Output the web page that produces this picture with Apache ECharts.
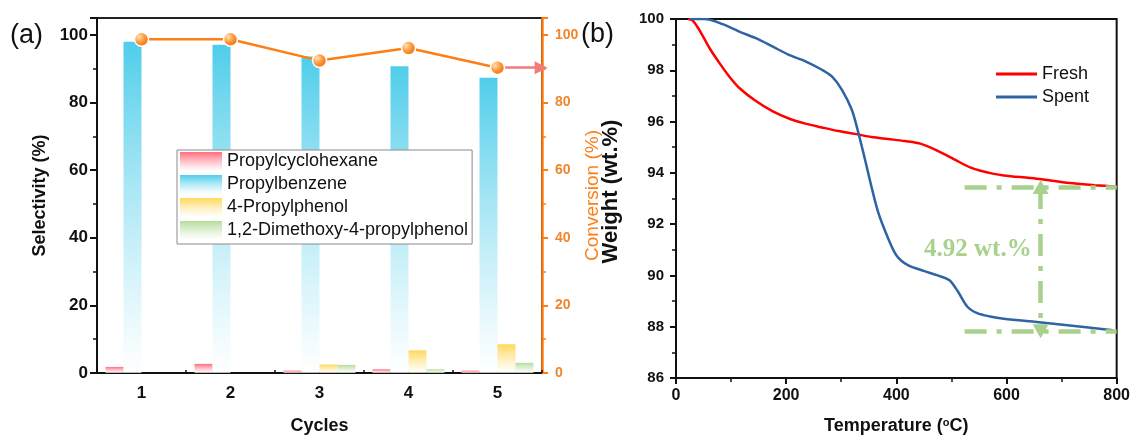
<!DOCTYPE html>
<html>
<head>
<meta charset="utf-8">
<script src="https://cdn.jsdelivr.net/npm/echarts@6/dist/echarts.min.js"></script>
<style>
html, body { margin: 0; padding: 0; background: #fff; }
#main { width: 1133px; height: 440px; }
</style>
</head>
<body>
<div id="main"></div>
<script>
// (a) selectivity / conversion over reuse cycles
var cycles = ['1', '2', '3', '4', '5'];
var propylcyclohexane = [1.8, 2.7, 0.7, 1.1, 0.7];
var propylbenzene = [98.0, 97.1, 93.6, 90.7, 87.3];
var propylphenol = [0, 0, 2.5, 6.7, 8.5];
var dimethoxyPropylphenol = [0, 0, 2.4, 1.1, 3.0];
var conversion = [98.7, 98.7, 92.4, 96.1, 90.3];

// (b) TGA curves, [temperature, weight]
var fresh = [[22, 100], [30, 99.95], [43, 99.55], [61, 98.86], [79, 98.28], [97, 97.75], [115, 97.31],
  [145, 96.8], [175, 96.41], [205, 96.12], [235, 95.92], [265, 95.77], [295, 95.63], [325, 95.52],
  [355, 95.4], [385, 95.32], [415, 95.24], [445, 95.13], [475, 94.86], [505, 94.53], [535, 94.2],
  [553, 94.08], [575, 93.97], [595, 93.9], [655, 93.77], [715, 93.6], [760, 93.52], [800, 93.46]];
var spent = [[25, 100], [52, 100], [85, 99.8], [115, 99.51], [145, 99.25], [175, 98.93], [205, 98.6],
  [235, 98.35], [265, 98.02], [283, 97.76], [301, 97.25], [319, 96.47], [331, 95.57], [343, 94.53],
  [355, 93.45], [367, 92.47], [383, 91.56], [400, 90.79], [421, 90.4], [451, 90.17], [475, 90.0],
  [496, 89.82], [511, 89.4], [529, 88.78], [547, 88.53], [570, 88.4], [595, 88.31], [655, 88.18],
  [715, 88.05], [793, 87.86]];

// weight-loss annotation
var lossText = '4.92 wt.%';
var lossUpper = 93.45, lossLower = 87.82;
var lossFrom = 524, lossTo = 800, lossArrowAt = 662;
var lossTextAt = [548, 91.0];

var font = 'Liberation Sans, Arial, sans-serif';
var orange = '#fd7e14';

var fade = function(c) {
  return new echarts.graphic.LinearGradient(0, 0, 0, 1, [
    {offset: 0, color: c}, {offset: 1, color: 'rgba(255,255,255,0.7)'}
  ]);
};
var ball = new echarts.graphic.RadialGradient(0.35, 0.35, 0.75, [
  {offset: 0, color: '#ffe2bd'}, {offset: 0.45, color: '#ff9a3a'}, {offset: 1, color: '#e36800'}
]);

var barSeries = function(name, data, color) {
  return {
    name: name, type: 'bar', xAxisIndex: 0, yAxisIndex: 0, data: data,
    barWidth: 18, barGap: '0%',
    itemStyle: {color: fade(color)}
  };
};

var chart = echarts.init(document.getElementById('main'));
chart.setOption({
  animation: false,
  textStyle: {fontFamily: font},
  graphic: [
    {type: 'text', left: 10, top: 22, style: {text: '(a)', fontSize: 27, fontFamily: font, fill: '#111'}},
    {type: 'text', left: 581, top: 21, style: {text: '(b)', fontSize: 27, fontFamily: font, fill: '#111'}}
  ],
  legend: [{
    data: ['Propylcyclohexane', 'Propylbenzene', '4-Propylphenol', '1,2-Dimethoxy-4-propylphenol'],
    orient: 'vertical', left: 177, top: 150, icon: 'rect',
    itemWidth: 42, itemHeight: 19, itemGap: 4, padding: [2, 4, 4, 3],
    borderColor: '#8a8a8a', borderWidth: 1, backgroundColor: '#fff',
    selectedMode: false,
    textStyle: {fontFamily: font, fontSize: 18, color: '#111'}
  }, {
    data: ['Fresh', 'Spent'],
    orient: 'vertical', left: 991, top: 59, icon: 'rect',
    itemWidth: 41, itemHeight: 3, itemGap: 3,
    selectedMode: false,
    textStyle: {fontFamily: font, fontSize: 18, color: '#111', lineHeight: 20}
  }],
  grid: [
    {left: 97, right: 591, top: 18, bottom: 63, show: true, borderColor: '#222', borderWidth: 2},
    {left: 676, right: 13, top: 19, bottom: 60, show: true, borderColor: '#111', borderWidth: 2}
  ],
  xAxis: [{
    type: 'category', gridIndex: 0, data: cycles, boundaryGap: true,
    name: 'Cycles', nameLocation: 'middle', nameGap: 44,
    nameTextStyle: {fontWeight: 'bold', fontSize: 18, color: '#111'},
    axisLine: {lineStyle: {color: '#111', width: 2}},
    axisTick: {alignWithLabel: true, length: 6, lineStyle: {width: 2}},
    axisLabel: {fontWeight: 'bold', fontSize: 17, color: '#111', margin: 12}
  }, {
    // boundary ticks between cycles, also carries the arrow
    type: 'value', gridIndex: 0, min: 0, max: 5, interval: 1,
    axisLine: {show: false},
    axisTick: {show: true, length: 3, lineStyle: {color: '#111', width: 1.5}},
    axisLabel: {show: false}, splitLine: {show: false}
  }, {
    type: 'value', gridIndex: 1, min: 0, max: 800, interval: 200,
    name: 'Temperature ({s|o}C)', nameLocation: 'middle', nameGap: 39,
    nameTextStyle: {fontWeight: 'bold', fontSize: 18, color: '#111',
      rich: {s: {fontSize: 11, fontWeight: 'bold', lineHeight: 11, verticalAlign: 'top', color: '#111'}}},
    axisLine: {lineStyle: {color: '#111', width: 2}},
    axisTick: {length: 6, lineStyle: {width: 2}},
    minorTick: {show: true, splitNumber: 2, length: 4, lineStyle: {color: '#111', width: 1.5}},
    axisLabel: {fontWeight: 'bold', fontSize: 16, color: '#111', margin: 10},
    splitLine: {show: false}
  }],
  yAxis: [{
    type: 'value', gridIndex: 0, min: 0, max: 105, interval: 20,
    name: 'Selectivity (%)', nameLocation: 'middle', nameGap: 48, nameRotate: 90,
    nameTextStyle: {fontWeight: 'bold', fontSize: 18, color: '#111'},
    axisLine: {show: true, lineStyle: {color: '#111', width: 2}},
    axisTick: {show: true, length: 7, lineStyle: {width: 2}},
    minorTick: {show: true, splitNumber: 2, length: 4, lineStyle: {color: '#111', width: 1.5}},
    axisLabel: {fontWeight: 'bold', fontSize: 17, color: '#111', margin: 9, showMaxLabel: false},
    splitLine: {show: false}
  }, {
    type: 'value', gridIndex: 0, position: 'right', min: 0, max: 105, interval: 20,
    name: 'Conversion (%)', nameLocation: 'middle', nameGap: 41, nameRotate: 90,
    nameTextStyle: {fontSize: 19, color: orange},
    axisLine: {show: true, lineStyle: {color: orange, width: 2.5}},
    axisTick: {show: true, length: 6, lineStyle: {width: 2}},
    minorTick: {show: true, splitNumber: 2, length: 4, lineStyle: {color: orange, width: 1.5}},
    axisLabel: {fontWeight: 'bold', fontSize: 14, color: '#f0862d', margin: 13, showMaxLabel: false},
    splitLine: {show: false}
  }, {
    type: 'value', gridIndex: 1, min: 86, max: 100, interval: 2,
    name: 'Weight (wt.%)', nameLocation: 'middle', nameGap: 54, nameRotate: 90,
    nameTextStyle: {fontWeight: 'bold', fontSize: 22, color: '#111', padding: [0, 0, 0, 14]},
    axisLine: {show: true, lineStyle: {color: '#111', width: 2}},
    axisTick: {show: true, length: 6, lineStyle: {width: 2}},
    minorTick: {show: true, splitNumber: 2, length: 4, lineStyle: {color: '#111', width: 1.5}},
    axisLabel: {fontWeight: 'bold', fontSize: 15, color: '#111', margin: 12},
    splitLine: {show: false}
  }],
  series: [
    barSeries('Propylcyclohexane', propylcyclohexane, '#ff6d7d'),
    barSeries('Propylbenzene', propylbenzene, '#4fcdea'),
    barSeries('4-Propylphenol', propylphenol, '#ffd85c'),
    barSeries('1,2-Dimethoxy-4-propylphenol', dimethoxyPropylphenol, '#b6dd9c'),
    {
      name: 'Conversion', type: 'line', xAxisIndex: 0, yAxisIndex: 1, data: conversion,
      symbol: 'circle', symbolSize: 14, z: 5,
      lineStyle: {color: orange, width: 2.5},
      itemStyle: {color: ball, borderColor: '#fff', borderWidth: 1.5}
    },
    {
      name: 'arrow', type: 'line', xAxisIndex: 1, yAxisIndex: 1, data: [],
      markLine: {
        silent: true, animation: false, symbol: ['none', 'triangle'], symbolSize: [13, 13],
        lineStyle: {color: '#f47b7b', width: 2.5, type: 'solid'},
        label: {show: false},
        data: [[{coord: [4.58, conversion[4]]}, {coord: [4.99, conversion[4]]}]]
      }
    },
    {
      name: 'Fresh', type: 'line', xAxisIndex: 2, yAxisIndex: 2, data: fresh,
      smooth: 0.3, symbol: 'none', color: '#ff0000',
      lineStyle: {color: '#ff0000', width: 2.5}
    },
    {
      name: 'Spent', type: 'line', xAxisIndex: 2, yAxisIndex: 2, data: spent,
      smooth: 0.3, symbol: 'none', color: '#2f64a3',
      lineStyle: {color: '#2f64a3', width: 2.5},
      markLine: {
        silent: true, animation: false, symbol: 'none',
        lineStyle: {color: '#a9d18e', width: 4.5, type: [22, 10, 5, 10]},
        label: {show: false},
        data: [
          [{coord: [lossFrom, lossUpper]}, {coord: [lossTo, lossUpper]}],
          [{coord: [lossFrom, lossLower]}, {coord: [lossTo, lossLower]}],
          [{coord: [lossArrowAt, lossUpper], symbol: 'triangle', symbolSize: [16, 14]},
           {coord: [lossArrowAt, lossLower], symbol: 'triangle', symbolSize: [16, 14]}]
        ]
      },
      markPoint: {
        silent: true, animation: false, symbol: 'circle', symbolSize: 1,
        itemStyle: {color: 'rgba(0,0,0,0)'},
        label: {show: true, position: 'inside', formatter: lossText,
          fontFamily: 'Liberation Serif, Times New Roman, serif', fontWeight: 'bold', fontSize: 25, color: '#a9d18e'},
        data: [{coord: lossTextAt}]
      }
    }
  ]
});
</script>
</body>
</html>
